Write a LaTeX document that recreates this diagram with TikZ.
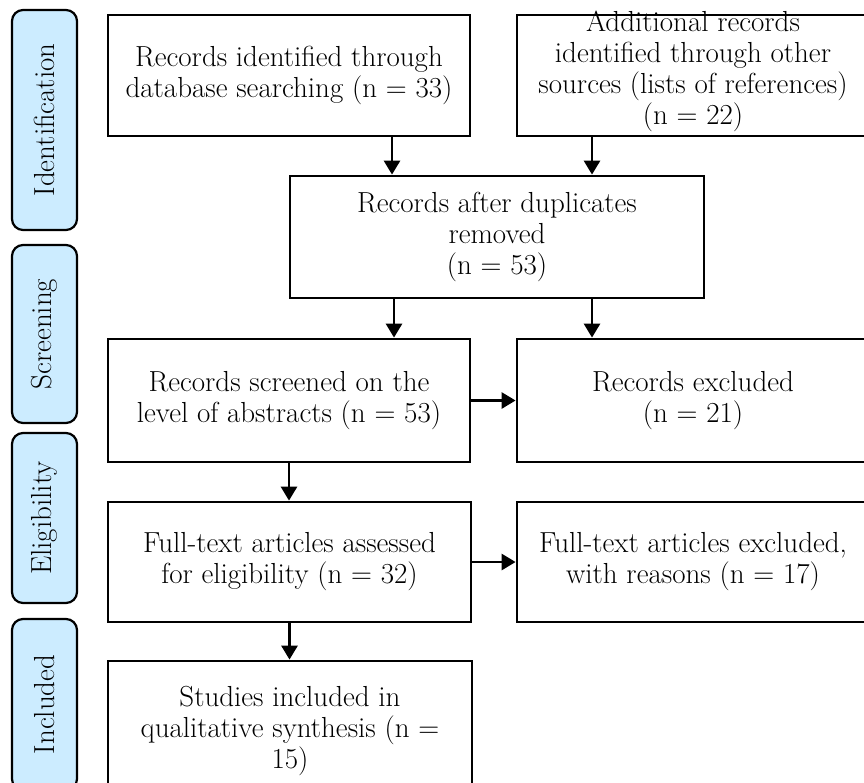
\documentclass[tikz,border=0pt]{standalone}
\usetikzlibrary{arrows.meta,calc}
\definecolor{sideblue}{RGB}{204,236,255}
\begin{document}
\begin{tikzpicture}[x=1pt,y=1pt,
  box/.style={draw=black, line width=2.8pt, fill=white, rectangle, align=center,
    inner sep=0pt, font=\fontsize{29}{31}\selectfont},
  side/.style={draw=black, line width=2.2pt, fill=sideblue, rounded corners=11pt,
    rectangle, inner sep=0pt, minimum height=65pt, rotate=90,
    font=\fontsize{29}{31}\selectfont},
  arr/.style={line width=2.8pt, -{Triangle[length=14pt,width=16pt]}}]
\useasboundingbox (0,0) rectangle (864,-782);
% side labels
\node[side, minimum width=220pt] (s1) at (44.5,-120) {Identification};
\node[side, minimum width=178pt] (s2) at (44.5,-334) {Screening};
\node[side, minimum width=170pt] (s3) at (44.5,-518) {Eligibility};
\node[side, minimum width=171pt] (s4) at (44.5,-704.5) {Included};
% main boxes
\node[box, minimum width=362pt, minimum height=121pt] (A) at (289,-75.5)
  {Records identified through\\database searching (n = 33)};
\node[box, minimum width=352pt, minimum height=121pt] (B) at (693,-75.5) {};
\node[align=center, font=\fontsize{29}{31}\selectfont] (Bt) at (693,-71)
  {Additional records\\identified through other\\sources (lists of references)\\(n = 22)};
\node[box, minimum width=414pt, minimum height=122pt] (C) at (497,-237)
  {Records after duplicates\\removed\\(n = 53)};
\node[box, minimum width=362pt, minimum height=123pt] (D) at (289,-400.5)
  {Records screened on the\\level of abstracts (n = 53)};
\node[box, minimum width=352pt, minimum height=123pt] (E) at (693,-400.5)
  {Records excluded\\(n = 21)};
\node[box, minimum width=363pt, minimum height=120pt] (F) at (289.5,-562)
  {Full-text articles assessed\\for eligibility (n = 32)};
\node[box, minimum width=352pt, minimum height=120pt] (G) at (693,-562)
  {Full-text articles excluded,\\with reasons (n = 17)};
\node[box, minimum width=364pt, minimum height=139pt] (H) at (290,-730.5)
  {Studies included in\\qualitative synthesis (n =\\15)};
% arrows
\draw[arr] ([xshift=103pt]A.south) -- ([xshift=103pt]A.south |- C.north);
\draw[arr] ([xshift=-101pt]B.south) -- ([xshift=-101pt]B.south |- C.north);
\draw[arr] ([xshift=-103pt]C.south) -- ([xshift=-103pt]C.south |- D.north);
\draw[arr] ([xshift=95pt]C.south) -- ([xshift=95pt]C.south |- E.north);
\draw[arr] (D.east) -- (E.west);
\draw[arr] (D.south) -- (D.south |- F.north);
\draw[arr] (F.east) -- (F.east -| G.west);
\draw[arr] (F.south) -- (F.south |- H.north);
\end{tikzpicture}
\end{document}
